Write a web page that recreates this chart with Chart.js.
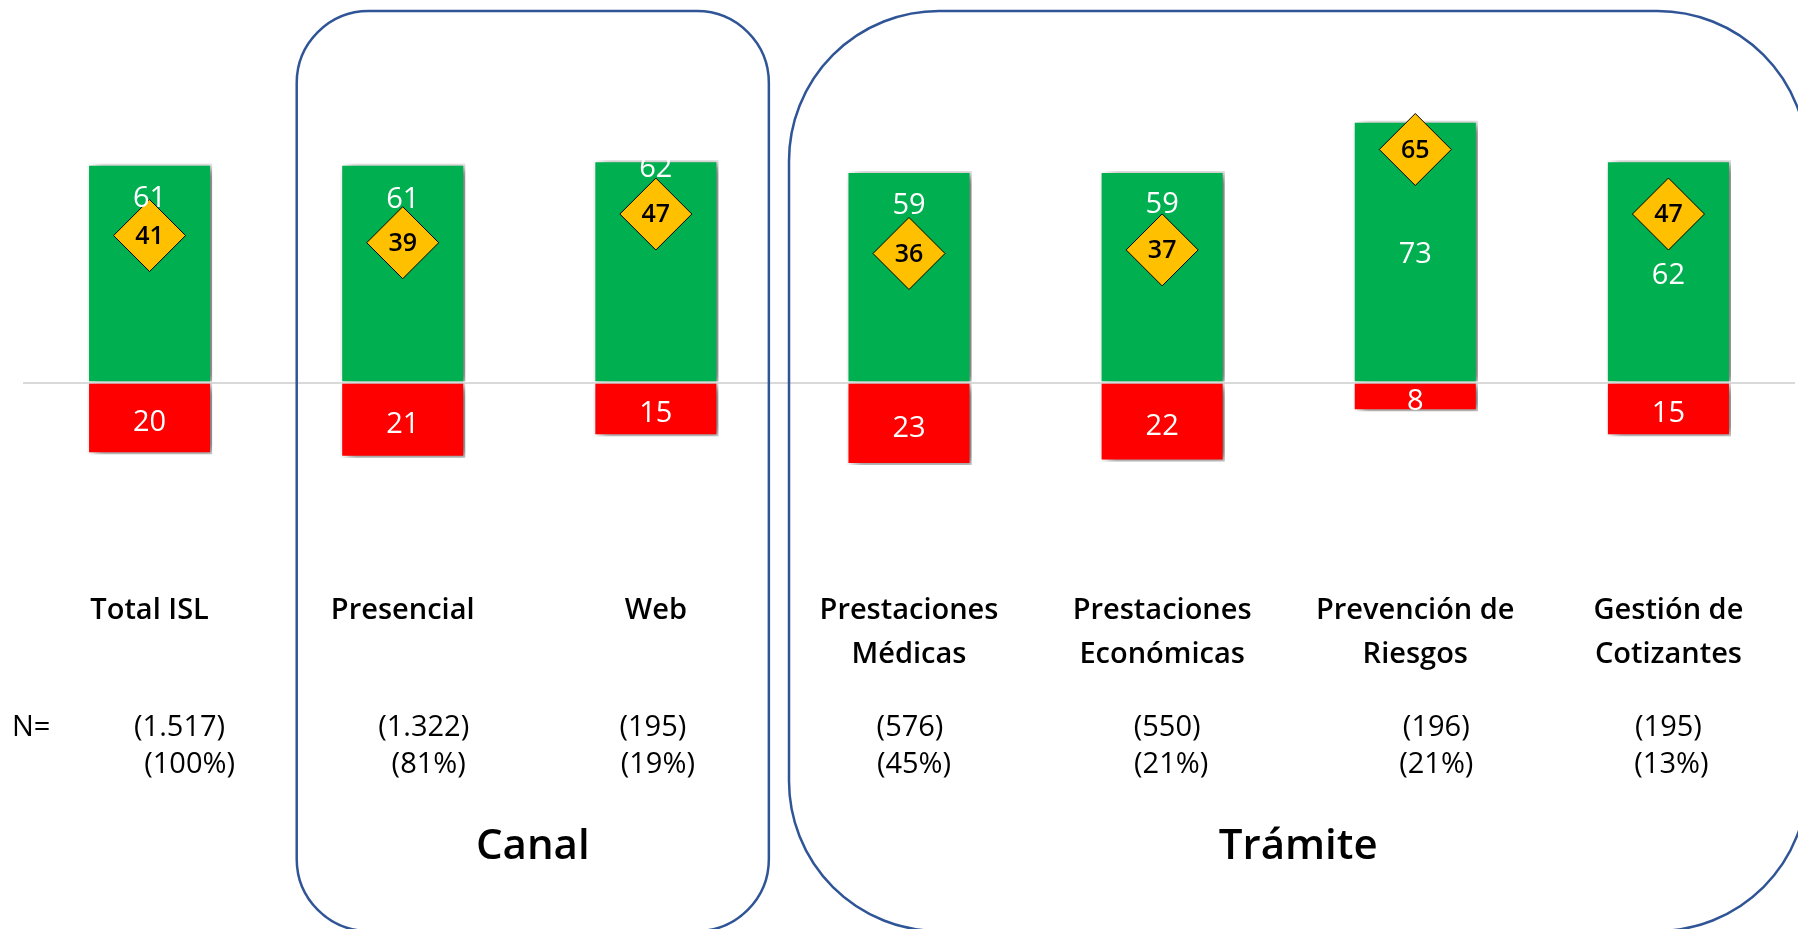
<!DOCTYPE html>
<html lang="es">
<head>
<meta charset="utf-8">
<title>Satisfacción neta por canal y trámite</title>
<script src="https://cdn.jsdelivr.net/npm/chart.js@4.4.1/dist/chart.umd.min.js"></script>
<style>
  html, body { margin: 0; padding: 0; background: #fff; }
  #wrap { width: 1798px; height: 929px; position: relative; }
</style>
</head>
<body>
<div id="wrap"><canvas id="netChart"></canvas></div>
<script>
// categorías (una o dos líneas por etiqueta)
const categories = [
  ['Total ISL'], ['Presencial'], ['Web'],
  ['Prestaciones', 'Médicas'], ['Prestaciones', 'Económicas'],
  ['Prevención de', 'Riesgos'], ['Gestión de', 'Cotizantes']
];
const positives = [61, 61, 62, 59, 59, 73, 62];   // % satisfechos
const negatives = [20, 21, 15, 23, 22, 8, 15];    // % insatisfechos
const netScore = [41, 39, 47, 36, 37, 65, 47];    // satisfacción neta
const sampleSize = ['(1.517)', '(1.322)', '(195)', '(576)', '(550)', '(196)', '(195)'];
const sampleShare = ['(100%)', '(81%)', '(19%)', '(45%)', '(21%)', '(21%)', '(13%)'];
const groupNames = ['Canal', 'Trámite'];
const groupFirst = [1, 3];
const groupLast = [2, 6];

const FONT = '"Open Sans", "Noto Sans", sans-serif';
Chart.defaults.font.family = FONT;

// where the white value sits below the top of each green bar (px)
const greenLabelDy = [35, 36, 8, 35, 34, 134, 115];
// small horizontal nudges for the two N= rows
const nShift = [30, 21, -3, 1, 5, 21, 0];
const shareShift = [40, 26, 2, 5, 9, 21, 3];
// group frames: extra space left/right of the outer categories and corner radius
const framePad = [[106, 113], [120, 139]];
const frameRadius = [72, 150];

const barShadow = {
  id: 'barShadow',
  beforeDatasetDraw(chart, args) {
    if (chart.getDatasetMeta(args.index).type !== 'bar') return;
    const ctx = chart.ctx;
    ctx.save();
    ctx.shadowColor = 'rgba(0,0,0,0.55)';
    ctx.shadowBlur = 10;
    ctx.shadowOffsetX = 6;
    ctx.shadowOffsetY = 2;
  },
  afterDatasetDraw(chart, args) {
    if (chart.getDatasetMeta(args.index).type !== 'bar') return;
    chart.ctx.restore();
  }
};

const annotations = {
  id: 'annotations',
  afterDatasetsDraw(chart) {
    const ctx = chart.ctx;
    const green = chart.getDatasetMeta(0).data;
    const red = chart.getDatasetMeta(1).data;
    const dia = chart.getDatasetMeta(2).data;
    ctx.save();
    ctx.textAlign = 'center';
    ctx.textBaseline = 'middle';
    ctx.fillStyle = '#fff';
    ctx.font = '29px ' + FONT;
    green.forEach((bar, i) => ctx.fillText(positives[i], bar.x, bar.y + greenLabelDy[i]));
    red.forEach((bar, i) => ctx.fillText(negatives[i], bar.x, (bar.y + bar.base) / 2 + 4));
    ctx.fillStyle = '#000';
    ctx.font = '600 25px ' + FONT;
    dia.forEach((pt, i) => ctx.fillText(netScore[i], pt.x, pt.y + 1));
    ctx.restore();
  },
  afterDraw(chart) {
    const ctx = chart.ctx;
    const xs = chart.scales.x;
    ctx.save();

    // N= rows
    ctx.fillStyle = '#000';
    ctx.font = '29px ' + FONT;
    ctx.textBaseline = 'middle';
    ctx.textAlign = 'left';
    ctx.fillText('N=', 12, 728);
    ctx.textAlign = 'center';
    categories.forEach((c, i) => {
      const cx = xs.getPixelForValue(i);
      ctx.fillText(sampleSize[i], cx + nShift[i], 728);
      ctx.fillText(sampleShare[i], cx + shareShift[i], 765);
    });

    // rounded frames with group titles
    groupNames.forEach((name, g) => {
      const left = xs.getPixelForValue(groupFirst[g]) - framePad[g][0];
      const right = xs.getPixelForValue(groupLast[g]) + framePad[g][1];
      const top = 11, bottom = 931;
      ctx.beginPath();
      ctx.roundRect(left, top, right - left, bottom - top, frameRadius[g]);
      ctx.strokeStyle = '#2F5597';
      ctx.lineWidth = 2.5;
      ctx.stroke();
      ctx.fillStyle = '#000';
      ctx.font = '600 42px ' + FONT;
      ctx.fillText(name, (left + right) / 2, 847);
    });
    ctx.restore();
  }
};

new Chart(document.getElementById('netChart'), {
  data: {
    labels: categories,
    datasets: [{
      type: 'bar',
      label: 'Satisfechos',
      data: positives,
      backgroundColor: '#00B050',
      borderColor: '#ffffff',
      borderWidth: 2,
      grouped: false,
      order: 1
    }, {
      type: 'bar',
      label: 'Insatisfechos',
      data: negatives.map(v => -v),
      backgroundColor: '#FF0000',
      borderColor: '#ffffff',
      borderWidth: 2,
      grouped: false,
      order: 1
    }, {
      type: 'line',
      label: 'Satisfacción neta',
      data: netScore,
      showLine: false,
      pointStyle: 'rectRot',
      pointRadius: 36,
      pointHoverRadius: 36,
      pointBackgroundColor: '#FFC000',
      pointBorderColor: '#000000',
      pointBorderWidth: 1,
      order: 0
    }]
  },
  options: {
    responsive: true,
    maintainAspectRatio: false,
    animation: false,
    layout: {
      autoPadding: false,
      padding: { left: 23, right: 3, top: 24, bottom: 50 }
    },
    datasets: {
      bar: { categoryPercentage: 1, barPercentage: 0.494 }
    },
    plugins: {
      legend: { display: false },
      tooltip: { enabled: false }
    },
    scales: {
      x: {
        grid: { display: false, drawTicks: false },
        border: { display: false },
        ticks: {
          color: '#000',
          font: { size: 29, weight: '600', lineHeight: 1.5 },
          padding: 63,
          maxRotation: 0,
          autoSkip: false
        },
        afterFit: s => { s.height = 353; s.paddingLeft = 0; s.paddingRight = 0; }
      },
      y: {
        min: -40,
        max: 100,
        ticks: { display: false, stepSize: 20 },
        grid: {
          color: c => c.tick.value === 0 ? '#D9D9D9' : 'rgba(0,0,0,0)',
          lineWidth: 2,
          drawTicks: false
        },
        border: { display: false },
        afterFit: s => { s.width = 0; s.paddingTop = 0; s.paddingBottom = 0; }
      }
    }
  },
  plugins: [barShadow, annotations]
});
</script>
</body>
</html>
